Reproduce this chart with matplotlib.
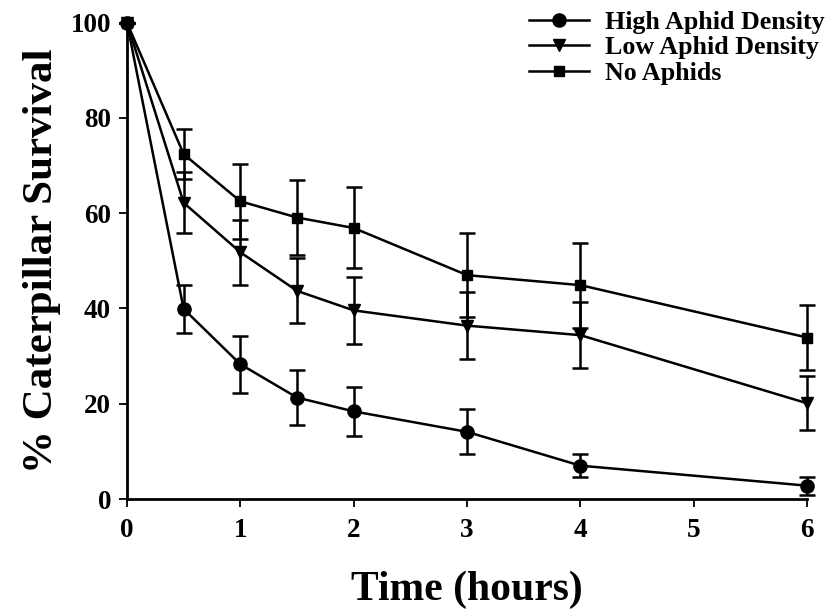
import matplotlib
matplotlib.use("Agg")
import matplotlib.pyplot as plt

plt.rcParams['font.family'] = ['Liberation Serif', 'DejaVu Serif']
plt.rcParams['font.weight'] = 'bold'

time = [0, 0.5, 1, 1.5, 2, 3, 4, 6]
high = [100, 39.9, 28.3, 21.3, 18.4, 14.1, 7.0, 2.8]
high_err = [0, 5.1, 6.0, 5.7, 5.2, 4.7, 2.4, 1.9]
low = [100, 62.2, 51.8, 43.7, 39.6, 36.4, 34.4, 20.1]
low_err = [0, 6.4, 6.8, 6.8, 7.1, 7.0, 6.9, 5.7]
none = [100, 72.4, 62.5, 59.1, 56.9, 47.0, 44.9, 33.9]
none_err = [0, 5.3, 7.9, 7.8, 8.5, 8.8, 8.9, 6.9]
labels = ["High Aphid Density", "Low Aphid Density", "No Aphids"]
xticks = [0, 1, 2, 3, 4, 5, 6]
yticks = [0, 20, 40, 60, 80, 100]

fig = plt.figure(figsize=(8.31, 6.15), dpi=100)
ax = fig.add_axes([0.1528, 0.1886, 0.8185, 0.7745])

series = [(high, high_err, 'o', 9.5), (low, low_err, 'v', 8.5), (none, none_err, 's', 7.5)]
handles = []
for (vals, err, mk, ms), lab in zip(series, labels):
    eb = ax.errorbar(time, vals, yerr=err, fmt='none', ecolor='black', elinewidth=1.8,
                     capsize=5.5, capthick=1.8, zorder=2)
    for art in eb.lines[1]:
        art.set_clip_on(False)
    for art in eb.lines[2]:
        art.set_clip_on(False)
    h, = ax.plot(time, vals, color='black', marker=mk, markersize=ms,
                 linewidth=1.8, label=lab, zorder=3, clip_on=False)
    handles.append(h)

ax.set_xlim(0, 6)
ax.set_ylim(0, 100)
ax.set_xticks(xticks)
ax.set_yticks(yticks)
ax.spines['top'].set_visible(False)
ax.spines['right'].set_visible(False)
for s in ['left', 'bottom']:
    ax.spines[s].set_linewidth(2.0)
ax.tick_params(axis='both', direction='out', length=5.5, width=1.3, labelsize=19.5)
ax.tick_params(axis='y', pad=6)
ax.tick_params(axis='x', pad=8)
for t in ax.get_xticklabels() + ax.get_yticklabels():
    t.set_fontweight('bold')

ax.set_xlabel("Time (hours)", fontsize=30, fontweight='bold', labelpad=20)
ax.set_ylabel("% Caterpillar Survival", fontsize=31, fontweight='bold', labelpad=7)

leg = ax.legend(handles=handles, loc='upper right', bbox_to_anchor=(1.041, 1.047),
                frameon=False, fontsize=18.7, handlelength=2.3, handletextpad=0.62,
                labelspacing=0.09, borderaxespad=0)
for t in leg.get_texts():
    t.set_fontweight('bold')

fig.savefig("out.png", dpi=100)
